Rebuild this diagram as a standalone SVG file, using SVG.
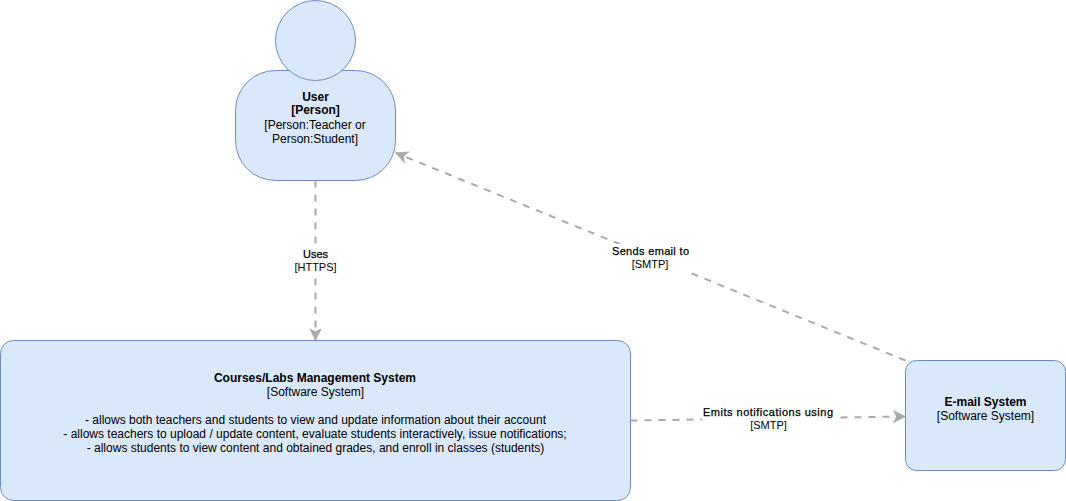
<svg xmlns="http://www.w3.org/2000/svg" width="1066" height="501" viewBox="0 0 1066 501">
<style>
.n{fill:#dae8fc;stroke:#6c8ebf;stroke-width:1}
text{font-family:"Liberation Sans",Arial,sans-serif;font-size:12px;fill:#000;text-anchor:middle}
.l{font-size:11px}
.m{stroke:#000;stroke-width:.25}
.b{font-weight:bold}
.c{fill:none;stroke:#aaa;stroke-width:2;stroke-dasharray:7 7}
.bg{fill:#fff;stroke:none}
</style>
<defs>
<marker id="a" markerUnits="userSpaceOnUse" markerWidth="13" markerHeight="13" refX="11" refY="5.500" orient="auto" overflow="visible"><path d="M0 0L11 5.500L0 11L2.800 5.500Z" fill="#aaa" stroke="#aaa" stroke-width="1"/></marker>
</defs>
<rect width="1066" height="501" fill="#fff"/>
<g id="connectors">
<path class="c" d="M315.500 180.500V340" marker-end="url(#a)"/>
<path class="c" d="M905.500 360.500L396 153" marker-end="url(#a)"/>
<path class="c" d="M630.500 420.500L905 416.500" marker-end="url(#a)"/>
<rect class="bg" x="293" y="247" width="45" height="28"/>
<text class="l m" x="315.500" y="258">Uses</text>
<text class="l" x="315.500" y="271">[HTTPS]</text>
<rect class="bg" x="611" y="244" width="78" height="28"/>
<text class="l m" x="650.500" y="255" textLength="77" lengthAdjust="spacing">Sends email to</text>
<text class="l" x="650" y="268">[SMTP]</text>
<rect class="bg" x="702" y="405" width="132" height="27"/>
<text class="l m" x="768" y="416" textLength="130" lengthAdjust="spacing">Emits notifications using</text>
<text class="l" x="768.500" y="429">[SMTP]</text>
</g>
<g id="user">
<rect class="n" x="235.500" y="70.500" width="160" height="110" rx="40" ry="40"/>
<circle class="n" cx="315.500" cy="40.500" r="40"/>
<text class="b" x="315.500" y="101">User</text>
<text class="b" x="315.500" y="114">[Person]</text>
<text x="315" y="129">[Person:Teacher or</text>
<text x="315" y="143">Person:Student]</text>
</g>
<g id="courses">
<rect class="n" x="0.500" y="340.500" width="630" height="160" rx="13" ry="13"/>
<text class="b" x="315" y="382">Courses/Labs Management System</text>
<text x="315.500" y="396">[Software System]</text>
<text x="315.500" y="424">- allows both teachers and students to view and update information about their account</text>
<text x="315" y="438">- allows teachers to upload / update content, evaluate students interactively, issue notifications;</text>
<text x="315.500" y="452">- allows students to view content and obtained grades, and enroll in classes (students)</text>
</g>
<g id="email">
<rect class="n" x="905.500" y="360.500" width="160" height="110" rx="11" ry="11"/>
<text class="b" x="985.500" y="406">E-mail System</text>
<text x="985.500" y="420">[Software System]</text>
</g>
</svg>
